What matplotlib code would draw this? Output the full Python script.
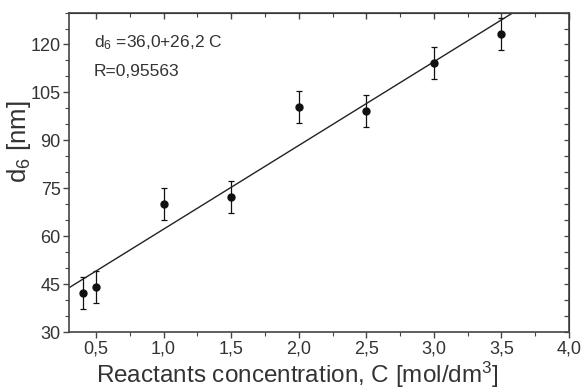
import numpy as np
import matplotlib
matplotlib.use("Agg")
import matplotlib.pyplot as plt
from matplotlib.ticker import MultipleLocator, FuncFormatter

plt.rcParams['font.family'] = ['Liberation Sans', 'DejaVu Sans']
plt.rcParams['mathtext.fontset'] = 'custom'
plt.rcParams['mathtext.rm'] = 'Liberation Sans'
plt.rcParams['mathtext.it'] = 'Liberation Sans'

# Data
conc = [0.4, 0.5, 1.0, 1.5, 2.0, 2.5, 3.0, 3.5]
d6 = [42.1, 44.0, 70.0, 72.2, 100.5, 99.1, 114.2, 123.2]
err = [5, 5, 5, 5, 5, 5, 5, 5]
intercept = 36.0
slope = 26.2

fig = plt.figure(figsize=(5.83, 3.92), dpi=100)
ax = fig.add_axes([0.1184, 0.153, 0.8576, 0.815])

gray = '#444444'
ax.errorbar(conc, d6, yerr=err, fmt='o', color='#111111', ms=5, capsize=2.5,
            elinewidth=0.9, capthick=0.9)

xfit = np.array([0.3, 4.0])
ax.plot(xfit, intercept + slope * xfit, color='#222222', lw=1.0)

ax.set_xlim(0.3, 4.0)
ax.set_ylim(30, 130)
ax.xaxis.set_major_locator(MultipleLocator(0.5))
ax.xaxis.set_minor_locator(MultipleLocator(0.25))
ax.yaxis.set_major_locator(MultipleLocator(15))
ax.yaxis.set_minor_locator(MultipleLocator(5))
ax.xaxis.set_major_formatter(FuncFormatter(lambda v, p: f"{v:.1f}".replace('.', ',')))

for s in ax.spines.values():
    s.set_color(gray)
    s.set_linewidth(1.2)

ax.tick_params(which='both', direction='out', color=gray, labelcolor='#333333',
               labelsize=13)
ax.tick_params(which='major', length=4, width=1, pad=2)
ax.tick_params(which='minor', length=3, width=0.8)

axt = ax.secondary_xaxis('top')
axt.xaxis.set_major_locator(MultipleLocator(0.5))
axt.xaxis.set_minor_locator(MultipleLocator(0.25))
axt.tick_params(which='both', direction='in', color=gray, labeltop=False)
axt.tick_params(which='major', length=4, width=1)
axt.tick_params(which='minor', length=3, width=0.8)
axr = ax.secondary_yaxis('right')
axr.yaxis.set_major_locator(MultipleLocator(5))
axr.tick_params(which='both', direction='in', color=gray, labelright=False,
                length=3.5, width=0.9)

ax.set_xlabel("Reactants concentration, C [mol/dm$^3$]", fontsize=17.5, color='#333333')
ax.set_ylabel("d$_6$ [nm]", fontsize=18.5, color='#333333')
ax.xaxis.set_label_coords(0.456, -0.088)
ax.yaxis.set_label_coords(-0.072, 0.595)

ax.text(0.049, 0.905, "d$_6$ =36,0+26,2 C", transform=ax.transAxes, fontsize=12.5,
        color='#333333', va='center')
ax.text(0.049, 0.817, "R=0,95563", transform=ax.transAxes, fontsize=12.5,
        color='#333333', va='center')

fig.savefig("out.png", dpi=100)
